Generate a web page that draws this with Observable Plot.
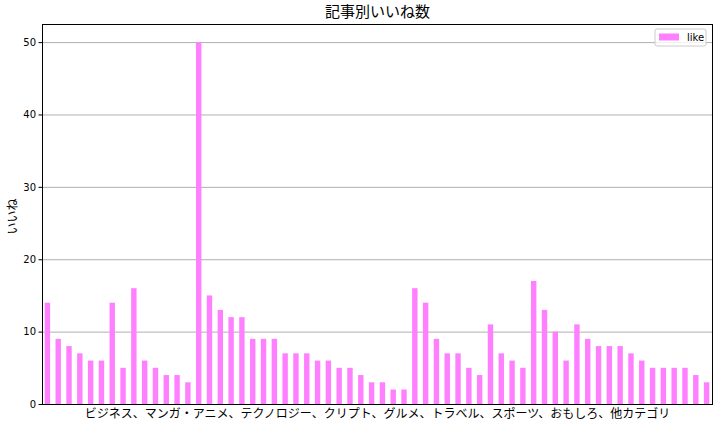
<!DOCTYPE html>
<html>
<head>
<meta charset="utf-8">
<script src="https://cdn.jsdelivr.net/npm/d3@7"></script>
<script src="https://cdn.jsdelivr.net/npm/@observablehq/plot@0.6"></script>
<style>
  html, body { margin: 0; padding: 0; background: #fff; }
  svg { display: block; }
</style>
</head>
<body>
<div id="chart"></div>
<script>
const title = "記事別いいね数";
const yLabel = "いいね";
const xLabel = "ビジネス、マンガ・アニメ、テクノロジー、クリプト、グルメ、トラベル、スポーツ、おもしろ、他カテゴリ";
const seriesName = "like";
const likes = [14, 9, 8, 7, 6, 6, 14, 5, 16, 6,
               5, 4, 4, 3, 50, 15, 13, 12, 12, 9,
               9, 9, 7, 7, 7, 6, 6, 5, 5, 4,
               3, 3, 2, 2, 16, 14, 9, 7, 7, 5,
               4, 11, 7, 6, 5, 17, 13, 10, 6, 11,
               9, 8, 8, 8, 7, 6, 5, 5, 5, 5,
               4, 3];
const articles = likes.map((_, i) => i);
const yTicks = [0, 10, 20, 30, 40, 50];
const barColor = "#ff80ff";

const data = articles.map((a, i) => ({article: a, like: likes[i]}));

const plot = Plot.plot({
  width: 722,
  height: 427,
  marginLeft: 42,
  marginRight: 10,
  marginTop: 24,
  marginBottom: 23,
  style: {fontFamily: "'Noto Sans CJK JP', sans-serif", background: "#fff"},
  x: {type: "band", domain: articles, paddingInner: 0.5, paddingOuter: 0.25, axis: null},
  y: {domain: [0, 52.5]},
  marks: [
    Plot.gridY(yTicks, {stroke: "#b0b0b0", strokeOpacity: 1, strokeWidth: 1}),
    Plot.barY(data, {x: "article", y: "like", fill: barColor}),
    Plot.axisY(yTicks, {tickSize: 3.5, tickPadding: 3, label: null, fontSize: 10, fontFamily: "DejaVu Sans", stroke: "#000"}),
    Plot.frame({stroke: "#000", strokeWidth: 1}),
    Plot.text([title], {frameAnchor: "top", lineAnchor: "middle", dy: -12, fontSize: 15, fill: "#000"}),
    Plot.text([xLabel], {frameAnchor: "bottom", lineAnchor: "middle", dy: 10, fontSize: 12, fill: "#000"}),
    Plot.text([yLabel], {frameAnchor: "left", textAnchor: "middle", lineAnchor: "middle", dx: -29, dy: 2, rotate: -90, fontSize: 12, fill: "#000"})
  ]
});

// legend box inside the frame, top-right
const svg = d3.select(plot);
const g = svg.append("g").attr("transform", "translate(655,29)");
g.append("rect").attr("x", 0).attr("y", 0).attr("width", 51).attr("height", 17)
  .attr("rx", 2).attr("fill", "#fff").attr("fill-opacity", 0.8).attr("stroke", "#cccccc");
g.append("rect").attr("x", 4).attr("y", 4.5).attr("width", 20).attr("height", 7).attr("fill", barColor);
g.append("text").attr("x", 32).attr("y", 8.5).attr("dy", "0.35em").attr("text-anchor", "start")
  .attr("font-size", 10).attr("font-family", "DejaVu Sans").attr("fill", "#000").text(seriesName);

document.getElementById("chart").appendChild(plot);
</script>
</body>
</html>
